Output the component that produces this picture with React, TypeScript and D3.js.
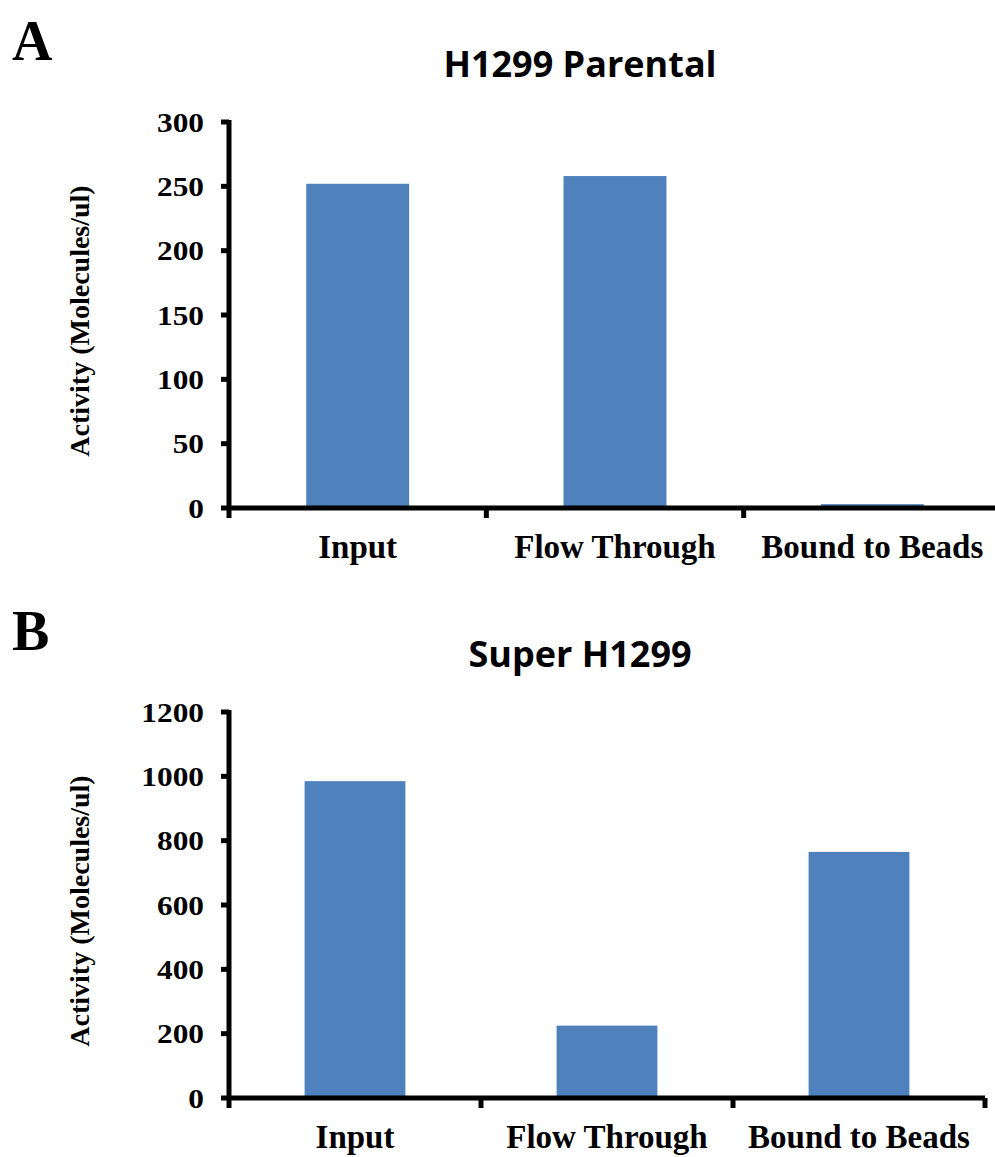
import React from 'react';
import { scaleBand, scaleLinear } from 'd3';

// categories shared by both panels
const categories = ['Input', 'Flow Through', 'Bound to Beads'];

// panel A - H1299 Parental
const parentalValues = [252, 258, 3];
const parentalTicks = [0, 50, 100, 150, 200, 250, 300];

// panel B - Super H1299
const superValues = [985, 225, 765];
const superTicks = [0, 200, 400, 600, 800, 1000, 1200];

const barColor = '#4F81BD';
const serif = '"Liberation Serif", "Times New Roman", serif';
const sans = '"Open Sans", "Noto Sans", sans-serif';

type PanelProps = {
  letter: string;
  title: string;
  values: number[];
  ticks: number[];
  top: number; // y offset of the panel
  xEnd: number;
};

const Panel = ({ letter, title, values, ticks, top, xEnd }: PanelProps) => {
  const left = 229;
  const yTop = top + 122;
  const yBottom = top + 508;

  const x = scaleBand<string>().domain(categories).range([left, xEnd]).paddingInner(0).paddingOuter(0);
  const y = scaleLinear().domain([0, ticks[ticks.length - 1]]).range([yBottom, yTop]);
  const barW = x.bandwidth() * 0.4;

  return (
    <g>
      <text x={12} y={top + 60} fontFamily={serif} fontWeight="bold" fontSize={56}>{letter}</text>
      <text x={580} y={top + 77} textAnchor="middle" fontFamily={sans} fontWeight="bold" fontSize={36}>{title}</text>

      {/* bars */}
      {values.map((v, i) => (
        <rect key={i}
          x={x(categories[i])! + (x.bandwidth() - barW) / 2}
          y={y(v)}
          width={barW}
          height={yBottom - y(v)}
          fill={barColor} />
      ))}

      {/* y axis */}
      <line x1={left} x2={left} y1={y.range()[1] - 2} y2={yBottom + 2} stroke="#000" strokeWidth={5} />
      {ticks.map(t => (
        <g key={t}>
          <line x1={left - 8} x2={left} y1={y(t)} y2={y(t)} stroke="#000" strokeWidth={5} />
          <text x={204} y={y(t)} dy="0.35em" textAnchor="end" fontFamily={serif} fontWeight="bold" fontSize={28}
            transform={`translate(204,0) scale(1.12,1) translate(-204,0)`}>{t}</text>
        </g>
      ))}

      {/* x axis */}
      <line x1={left - 2} x2={xEnd} y1={yBottom} y2={yBottom} stroke="#000" strokeWidth={5} />
      {[...categories.map(c => x(c)!), xEnd].map((p, i) => (
        <line key={i} x1={p} x2={p} y1={yBottom} y2={yBottom + 10} stroke="#000" strokeWidth={5} />
      ))}
      {categories.map(c => (
        <text key={c} x={x(c)! + x.bandwidth() / 2} y={yBottom + 50} textAnchor="middle"
          fontFamily={serif} fontWeight="bold" fontSize={33}>{c}</text>
      ))}

      <text transform={`translate(89,${(yTop + yBottom) / 2 + 6}) rotate(-90)`} textAnchor="middle"
        fontFamily={serif} fontWeight="bold" fontSize={28}>Activity (Molecules/ul)</text>
    </g>
  );
};

export default function App() {
  return (
    <svg width={995} height={1157} style={{ display: 'block', position: 'absolute', left: 0, top: 0, background: '#fff' }}>
      <rect width={995} height={1157} fill="#fff" />
      <Panel letter="A" title="H1299 Parental" values={parentalValues} ticks={parentalTicks} top={0} xEnd={1001} />
      <Panel letter="B" title="Super H1299" values={superValues} ticks={superTicks} top={590} xEnd={985} />
    </svg>
  );
}
